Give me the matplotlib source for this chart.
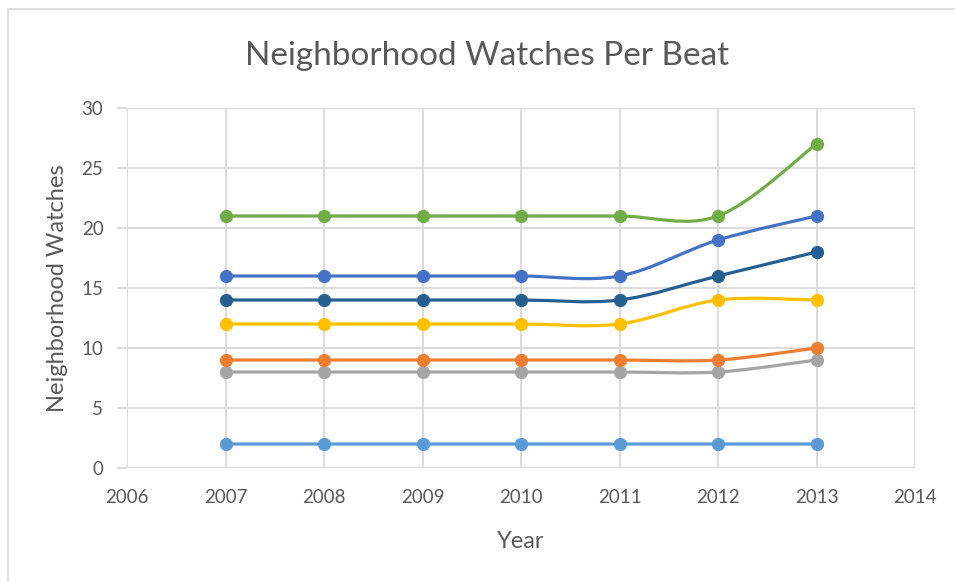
import numpy as np
import matplotlib
matplotlib.use("Agg")
import matplotlib.pyplot as plt
from matplotlib.path import Path
from matplotlib.patches import PathPatch, Rectangle

plt.rcParams["font.family"] = ["Lato", "DejaVu Sans"]

YEARS = [2007, 2008, 2009, 2010, 2011, 2012, 2013]

# series in drawing order, with Office-style colours
SERIES_NAMES = ["Beat A", "Beat B", "Beat C", "Beat D", "Beat E", "Beat F", "Beat G"]
BEAT_A = [2, 2, 2, 2, 2, 2, 2]
BEAT_B = [8, 8, 8, 8, 8, 8, 9]
BEAT_C = [9, 9, 9, 9, 9, 9, 10]
BEAT_D = [12, 12, 12, 12, 12, 14, 14]
BEAT_E = [14, 14, 14, 14, 14, 16, 18]
BEAT_F = [16, 16, 16, 16, 16, 19, 21]
BEAT_G = [21, 21, 21, 21, 21, 21, 27]
SERIES = [BEAT_A, BEAT_B, BEAT_C, BEAT_D, BEAT_E, BEAT_F, BEAT_G]
COLORS = ["#5B9BD5", "#A5A5A5", "#ED7D31", "#FFC000", "#255E91", "#4472C4", "#70AD47"]

TEXT = "#595959"
GRID = "#D9D9D9"


def smooth_path(xs, ys):
    """Excel-style smoothed line: cubic Bezier through the points with
    Catmull-Rom control points."""
    pts = np.column_stack([xs, ys]).astype(float)
    n = len(pts)
    verts = [pts[0]]
    codes = [Path.MOVETO]
    for i in range(n - 1):
        p0 = pts[max(i - 1, 0)]
        p1 = pts[i]
        p2 = pts[i + 1]
        p3 = pts[min(i + 2, n - 1)]
        c1 = p1 + (p2 - p0) / 6
        c2 = p2 - (p3 - p1) / 6
        verts += [c1, c2, p2]
        codes += [Path.CURVE4] * 3
    return Path(verts, codes)


fig = plt.figure(figsize=(9.55, 5.82), dpi=100)
fig.patches.append(Rectangle((8 / 955, -0.1), 1.2, 1 - 9 / 582 + 0.1,
                             transform=fig.transFigure, fill=False,
                             edgecolor=GRID, linewidth=1.2))
ax = fig.add_axes([127 / 955, 1 - 468 / 582, (915 - 127) / 955, (468 - 108) / 582])

for ys, c in zip(SERIES, COLORS):
    ax.add_patch(PathPatch(smooth_path(YEARS, ys), facecolor="none",
                           edgecolor=c, linewidth=2.3, zorder=3,
                           capstyle="round"))
    ax.plot(YEARS, ys, linestyle="none", marker="o", markersize=8.5,
            color=c, zorder=4)

ax.set_xlim(2006, 2014)
ax.set_ylim(0, 30)
ax.set_xticks(range(2006, 2015))
ax.set_yticks(range(0, 31, 5))
ax.grid(True, color=GRID, linewidth=1.3)
ax.set_axisbelow(True)
for s in ax.spines.values():
    s.set_visible(False)
ax.tick_params(axis="y", length=7, color=GRID, width=1.3, labelsize=13.5,
               labelcolor=TEXT, pad=10)
ax.tick_params(axis="x", length=0, labelsize=13.5, labelcolor=TEXT, pad=15)

ax.set_xlabel("Year", fontsize=17, color=TEXT, labelpad=18)
ax.set_ylabel("Neighborhood Watches", fontsize=17, color=TEXT, labelpad=10)
fig.text(487 / 955, 1 - 56 / 582, "Neighborhood Watches Per Beat",
         ha="center", va="center", fontsize=24, color=TEXT)

fig.savefig("out.png", dpi=100)
